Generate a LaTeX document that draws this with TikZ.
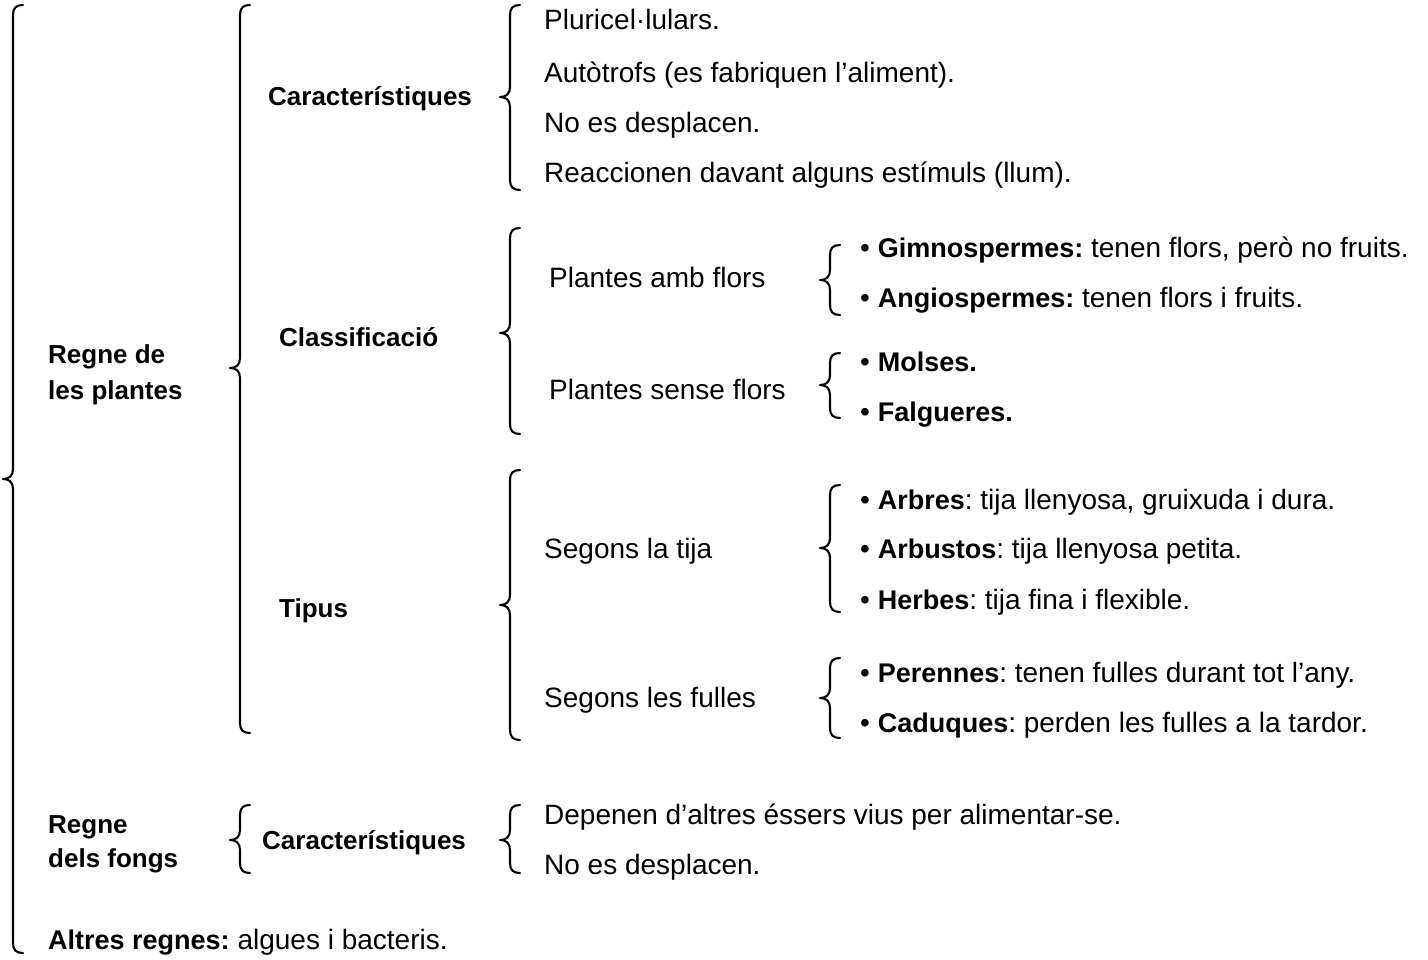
\documentclass[tikz,border=0pt]{standalone}
\usepackage{fontspec}
\setmainfont{Liberation Sans}
\frenchspacing
\newcommand{\brc}[4]{%
  \draw[brc] (#1+10,#2) .. controls (#1+3,#2) and (#1,#2+3) .. (#1,#2+10)
    -- (#1,#3-10) .. controls (#1,#3-3) and (#1-4,#3) .. (#1-10,#3)
    .. controls (#1-4,#3) and (#1,#3+3) .. (#1,#3+10)
    -- (#1,#4-10) .. controls (#1,#4-3) and (#1+3,#4) .. (#1+10,#4);}
\newcommand{\kb}[1]{{\fontsize{27}{32}\selectfont\bfseries #1}}
\begin{document}
\begin{tikzpicture}[x=1pt,y=-1pt,
  brc/.style={line width=2.1pt, line cap=round, line join=round},
  txt/.style={anchor=west, inner sep=0pt, text height=19pt, text depth=0pt,
              font=\fontsize{28}{32}\selectfont},
  hd/.style={txt, font=\fontsize{26}{32}\selectfont\bfseries}]
\fill[white] (0,0) rectangle (1428,960);
\useasboundingbox (0,0) rectangle (1428,960);

% braces
\brc{13}{5}{479}{953}
\brc{240}{5}{368}{733}
\brc{510}{5}{97}{190}
\brc{510}{228}{333}{434}
\brc{830}{245}{280}{315}
\brc{830}{353}{385}{418}
\brc{510}{470}{605}{740}
\brc{830}{485}{548}{612}
\brc{830}{658}{698}{738}
\brc{240}{805}{840}{873}
\brc{510}{805}{840}{873}

% level 1
\node[hd] (rp1) at (48,354) {Regne de};
\node[hd] (rp2) at (48,390) {les plantes};
\node[hd] (rf1) at (48,824) {Regne};
\node[hd] (rf2) at (48,858) {dels fongs};
\node[txt] (alt) at (48,940) {\kb{Altres regnes:} algues i bacteris.};

% level 2
\node[hd] (car) at (268,96) {Característiques};
\node[hd] (cla) at (279,337) {Classificació};
\node[hd] (tip) at (279,608) {Tipus};
\node[hd] (carf) at (262,840) {Característiques};

% characteristics plants
\node[txt] (c1) at (544,20) {Pluricel·lulars.};
\node[txt] (c2) at (544,73) {Autòtrofs (es fabriquen l’aliment).};
\node[txt] (c3) at (544,123) {No es desplacen.};
\node[txt] (c4) at (544,173) {Reaccionen davant alguns estímuls (llum).};

% classification
\node[txt] (paf) at (549,278) {Plantes amb flors};
\node[txt] (psf) at (549,390) {Plantes sense flors};
\node[txt] (gim) at (860,248) {• \kb{Gimnospermes:} tenen flors, però no fruits.};
\node[txt] (ang) at (860,298) {• \kb{Angiospermes:} tenen flors i fruits.};
\node[txt] (mol) at (860,362) {• \kb{Molses.}};
\node[txt] (fal) at (860,412) {• \kb{Falgueres.}};

% types
\node[txt] (slt) at (544,549) {Segons la tija};
\node[txt] (slf) at (544,698) {Segons les fulles};
\node[txt] (arb) at (860,500) {• \kb{Arbres}: tija llenyosa, gruixuda i dura.};
\node[txt] (abs) at (860,549) {• \kb{Arbustos}: tija llenyosa petita.};
\node[txt] (her) at (860,600) {• \kb{Herbes}: tija fina i flexible.};
\node[txt] (per) at (860,673) {• \kb{Perennes}: tenen fulles durant tot l’any.};
\node[txt] (cad) at (860,723) {• \kb{Caduques}: perden les fulles a la tardor.};

% fungi
\node[txt] (f1) at (544,815) {Depenen d’altres éssers vius per alimentar-se.};
\node[txt] (f2) at (544,865) {No es desplacen.};
\end{tikzpicture}
\end{document}
